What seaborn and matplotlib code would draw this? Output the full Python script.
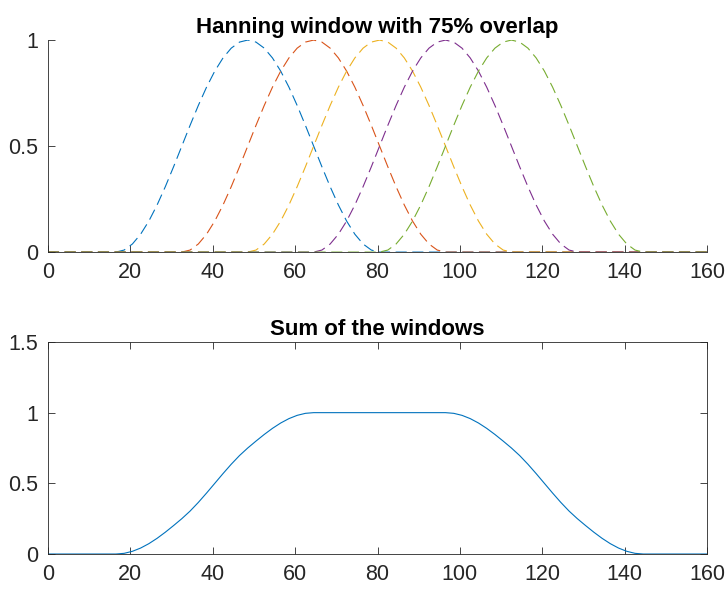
import pandas as pd
import seaborn as sns
import matplotlib.pyplot as plt
import matplotlib.ticker as mticker

# window shape (one Hanning window, every 2 samples over 64 samples)
win_offsets = list(range(0, 65, 2))
win_shape = [0.0, 0.0096, 0.0381, 0.0843, 0.1464, 0.2222, 0.3087, 0.4025, 0.5,
             0.5975, 0.6913, 0.7778, 0.8536, 0.9157, 0.9619, 0.9904, 1.0,
             0.9904, 0.9619, 0.9157, 0.8536, 0.7778, 0.6913, 0.5975, 0.5,
             0.4025, 0.3087, 0.2222, 0.1464, 0.0843, 0.0381, 0.0096, 0.0]
# start of each window (hop of 16 samples = 75% overlap)
win_starts = [16.5, 32.5, 48.5, 64.5, 80.5]
win_names = ["w1", "w2", "w3", "w4", "w5"]
x_min, x_max = 0, 160

colors = ["#0072BD", "#D95319", "#EDB120", "#7E2F8E", "#77AC30"]
axis_col = "#262626"

sns.set_style("ticks")
plt.rcParams['font.family'] = ['Liberation Sans', 'DejaVu Sans']
plt.rcParams['xtick.direction'] = 'in'
plt.rcParams['ytick.direction'] = 'in'

# long table of all windows, zero outside their support
rows = []
for name, start in zip(win_names, win_starts):
    rows.append((name, x_min, 0.0))
    for off, v in zip(win_offsets, win_shape):
        rows.append((name, start + off, v))
    rows.append((name, x_max, 0.0))
df = pd.DataFrame(rows, columns=["window", "x", "y"])

# sum of the windows, normalised to a peak of 1
df_sum = df.groupby("x", as_index=False)["y"].sum().sort_values("x")
df_sum["y"] = df_sum["y"] / df_sum["y"].max()

fig = plt.figure(figsize=(7.26, 5.89), dpi=100)
ax1 = fig.add_axes([0.066, 0.572, 0.908, 0.360])
ax2 = fig.add_axes([0.066, 0.0594, 0.908, 0.360])

sns.lineplot(data=df, x="x", y="y", hue="window", style="window",
             palette=colors, dashes=[(10, 5)] * 5, linewidth=0.8,
             sort=False, legend=False, ax=ax1)
sns.lineplot(data=df_sum, x="x", y="y", color=colors[0], linewidth=0.8,
             sort=False, legend=False, ax=ax2)

ax1.set_title("Hanning window with 75% overlap", fontsize=16,
              fontweight="bold", pad=5, color="black")
ax2.set_title("Sum of the windows", fontsize=16, fontweight="bold", pad=5,
              color="black")

ax1.set_xlim(x_min, x_max)
ax1.set_ylim(0, 1)
ax1.set_yticks([0, 0.5, 1])
ax2.set_xlim(x_min, x_max)
ax2.set_ylim(0, 1.5)
ax2.set_yticks([0, 0.5, 1, 1.5])

for ax in (ax1, ax2):
    ax.set_xticks(range(0, 161, 20))
    ax.set_xlabel("")
    ax.set_ylabel("")
    ax.yaxis.set_major_formatter(mticker.FormatStrFormatter("%g"))
    ax.tick_params(labelsize=15.5, colors=axis_col, length=5, width=0.6,
                   pad=7)
    for sp in ax.spines.values():
        sp.set_color(axis_col)
        sp.set_linewidth(0.6)

sns.despine(ax=ax1)
ax2.tick_params(top=True, right=True)

fig.savefig("out.png", dpi=100)
